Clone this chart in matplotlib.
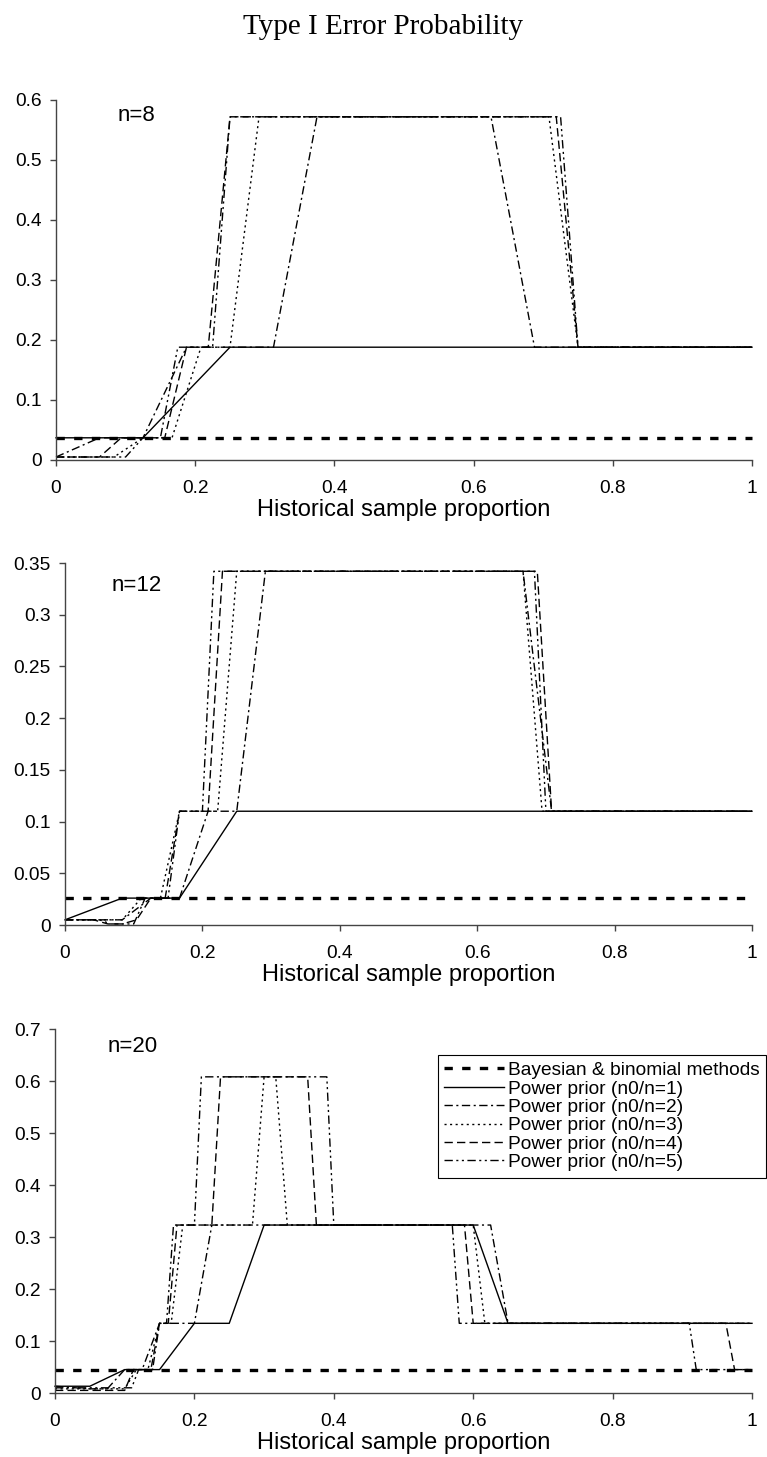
import matplotlib
matplotlib.use("Agg")
import matplotlib.pyplot as plt
from matplotlib.ticker import FuncFormatter
import numpy as np

plt.rcParams["font.family"] = ["Liberation Sans", "DejaVu Sans"]

# ---- data --------------------------------------------------------------
X_TICKS = [0, 0.2, 0.4, 0.6, 0.8, 1]

# n = 8
BAYES_8 = 0.036
PP1_8_X = [0, 0.125, 0.25, 1]
PP1_8_Y = [0.037, 0.037, 0.188, 0.188]
PP2_8_X = [0, 0.0625, 0.125, 0.1875, 0.3125, 0.375, 0.625, 0.6875, 1]
PP2_8_Y = [0.005, 0.037, 0.037, 0.188, 0.188, 0.572, 0.572, 0.188, 0.188]
PP3_8_X = [0, 0.0833, 0.125, 0.1667, 0.2083, 0.25, 0.2917, 0.7083, 0.75, 1]
PP3_8_Y = [0.005, 0.005, 0.037, 0.037, 0.188, 0.188, 0.572, 0.572, 0.188, 0.188]
PP4_8_X = [0, 0.0625, 0.09375, 0.15625, 0.1875, 0.21875, 0.25, 0.71875, 0.75, 1]
PP4_8_Y = [0.005, 0.005, 0.037, 0.037, 0.188, 0.188, 0.572, 0.572, 0.188, 0.188]
PP5_8_X = [0, 0.1, 0.125, 0.15, 0.175, 0.225, 0.25, 0.725, 0.75, 1]
PP5_8_Y = [0.005, 0.005, 0.037, 0.037, 0.188, 0.188, 0.572, 0.572, 0.188, 0.188]

# n = 12
BAYES_12 = 0.026
PP1_12_X = [0, 0.0833, 0.1667, 0.25, 1]
PP1_12_Y = [0.005, 0.026, 0.026, 0.110, 0.110]
PP2_12_X = [0, 0.0833, 0.125, 0.1667, 0.2083, 0.25, 0.2917, 0.6667, 0.7083, 1]
PP2_12_Y = [0.005, 0.005, 0.026, 0.026, 0.110, 0.110, 0.342, 0.342, 0.110, 0.110]
PP3_12_X = [0, 0.0833, 0.1111, 0.1389, 0.1667, 0.2222, 0.25, 0.6667, 0.6944, 1]
PP3_12_Y = [0.005, 0.005, 0.026, 0.026, 0.110, 0.110, 0.342, 0.342, 0.110, 0.110]
PP4_12_X = [0, 0.0417, 0.0625, 0.0833, 0.1042, 0.125, 0.1458, 0.1667, 0.2083, 0.2292, 0.6875, 0.7083, 1]
PP4_12_Y = [0.005, 0.005, 0.001, 0.001, 0.005, 0.026, 0.026, 0.110, 0.110, 0.342, 0.342, 0.110, 0.110]
PP5_12_X = [0, 0.05, 0.0667, 0.1, 0.1167, 0.15, 0.1667, 0.2, 0.2167, 0.6833, 0.7, 1]
PP5_12_Y = [0.005, 0.005, 0.001, 0.001, 0.026, 0.026, 0.110, 0.110, 0.342, 0.342, 0.110, 0.110]

# n = 20
BAYES_20 = 0.045
PP1_20_X = [0, 0.05, 0.1, 0.15, 0.2, 0.25, 0.3, 0.6, 0.65, 1]
PP1_20_Y = [0.013, 0.013, 0.045, 0.045, 0.134, 0.134, 0.323, 0.323, 0.134, 0.134]
PP2_20_X = [0, 0.05, 0.075, 0.1, 0.125, 0.15, 0.2, 0.225, 0.625, 0.65, 1]
PP2_20_Y = [0.013, 0.008, 0.008, 0.045, 0.045, 0.134, 0.134, 0.323, 0.323, 0.134, 0.134]
PP3_20_X = [0, 0.1, 0.1167, 0.1333, 0.15, 0.1667, 0.1833, 0.2833, 0.3, 0.3167, 0.3333, 0.6, 0.6167, 1]
PP3_20_Y = [0.008, 0.008, 0.045, 0.045, 0.134, 0.134, 0.323, 0.323, 0.608, 0.608, 0.323, 0.323, 0.134, 0.134]
PP4_20_X = [0, 0.1, 0.1125, 0.1375, 0.15, 0.1625, 0.175, 0.225, 0.2375, 0.3625, 0.375, 0.5875, 0.6, 0.9625, 0.975, 1]
PP4_20_Y = [0.005, 0.005, 0.045, 0.045, 0.134, 0.134, 0.323, 0.323, 0.608, 0.608, 0.323, 0.323, 0.134, 0.134, 0.045, 0.045]
PP5_20_X = [0, 0.11, 0.12, 0.14, 0.15, 0.16, 0.17, 0.2, 0.21, 0.39, 0.4, 0.57, 0.58, 0.91, 0.92, 1]
PP5_20_Y = [0.01, 0.01, 0.045, 0.045, 0.134, 0.134, 0.323, 0.323, 0.608, 0.608, 0.323, 0.323, 0.134, 0.134, 0.045, 0.045]

LEGEND_LABELS = [
    "Bayesian & binomial methods",
    "Power prior (n0/n=1)",
    "Power prior (n0/n=2)",
    "Power prior (n0/n=3)",
    "Power prior (n0/n=4)",
    "Power prior (n0/n=5)",
]

BAYES_STYLE = dict(color="black", lw=2.4, ls=(0, (2.5, 2.8)))
PP_STYLES = [
    dict(color="black", lw=1.0, ls="-"),
    dict(color="black", lw=1.0, ls=(0, (6, 2.5, 1.5, 2.5))),
    dict(color="black", lw=1.0, ls=(0, (1.5, 2.5))),
    dict(color="black", lw=1.0, ls=(0, (6, 3))),
    dict(color="black", lw=1.0, ls=(0, (6, 2.5, 1.5, 2.5, 1.5, 2.5))),
]

W, H = 767, 1457


def axes_rect(left, right, top, bottom):
    return [left / W, 1 - bottom / H, (right - left) / W, (bottom - top) / H]


def draw_panel(ax, label, label_xy, bayes, curves, ymax, ystep):
    lines = [ax.plot([0, 1], [bayes, bayes], clip_on=False, **BAYES_STYLE)[0]]
    for (xs, ys), style in zip(curves, PP_STYLES):
        lines.append(ax.plot(xs, ys, clip_on=False, **style)[0])

    for side in ("top", "right"):
        ax.spines[side].set_visible(False)
    for side in ("left", "bottom"):
        ax.spines[side].set_color("#444444")
        ax.spines[side].set_linewidth(1.0)

    ax.set_xlim(0, 1)
    ax.set_ylim(0, ymax)
    ax.set_xticks(X_TICKS)
    ax.set_yticks(np.arange(0, ymax + ystep / 2, ystep))
    fmt = FuncFormatter(lambda v, _: f"{v:g}")
    ax.xaxis.set_major_formatter(fmt)
    ax.yaxis.set_major_formatter(fmt)
    ax.tick_params(axis="both", direction="out", length=4.5, width=1.0,
                   color="#444444", labelsize=13.8)
    ax.tick_params(axis="x", pad=10)
    ax.tick_params(axis="y", pad=6)
    ax.set_xlabel("Historical sample proportion", fontsize=17, labelpad=1)
    ax.text(label_xy[0], label_xy[1], label, transform=ax.transAxes,
            fontsize=16, ha="left", va="center")
    return lines


fig = plt.figure(figsize=(W / 100, H / 100), dpi=100)
fig.text(0.5, 1 - 27 / H, "Type I Error Probability", ha="center", va="center",
         fontsize=21, family=["Liberation Serif", "DejaVu Serif"])

ax1 = fig.add_axes(axes_rect(56, 752, 100, 460))
draw_panel(ax1, "n=8", (0.088, 0.956), BAYES_8,
           [(PP1_8_X, PP1_8_Y), (PP2_8_X, PP2_8_Y), (PP3_8_X, PP3_8_Y),
            (PP4_8_X, PP4_8_Y), (PP5_8_X, PP5_8_Y)], 0.6, 0.1)

ax2 = fig.add_axes(axes_rect(65, 752, 563, 925))
draw_panel(ax2, "n=12", (0.068, 0.939), BAYES_12,
           [(PP1_12_X, PP1_12_Y), (PP2_12_X, PP2_12_Y), (PP3_12_X, PP3_12_Y),
            (PP4_12_X, PP4_12_Y), (PP5_12_X, PP5_12_Y)], 0.35, 0.05)

ax3 = fig.add_axes(axes_rect(55, 752, 1029, 1393))
lines = draw_panel(ax3, "n=20", (0.076, 0.951), BAYES_20,
                   [(PP1_20_X, PP1_20_Y), (PP2_20_X, PP2_20_Y), (PP3_20_X, PP3_20_Y),
                    (PP4_20_X, PP4_20_Y), (PP5_20_X, PP5_20_Y)], 0.7, 0.1)

leg = ax3.legend(lines, LEGEND_LABELS, loc="upper right",
                 bbox_to_anchor=(766 / W, 1 - 1055 / H), bbox_transform=fig.transFigure,
                 borderaxespad=0, fontsize=13.8, handlelength=3.1, handletextpad=0.2,
                 labelspacing=0.05, borderpad=0.35, fancybox=False, framealpha=1,
                 edgecolor="black")
leg.get_frame().set_linewidth(0.8)

fig.savefig("out.png", dpi=100)
